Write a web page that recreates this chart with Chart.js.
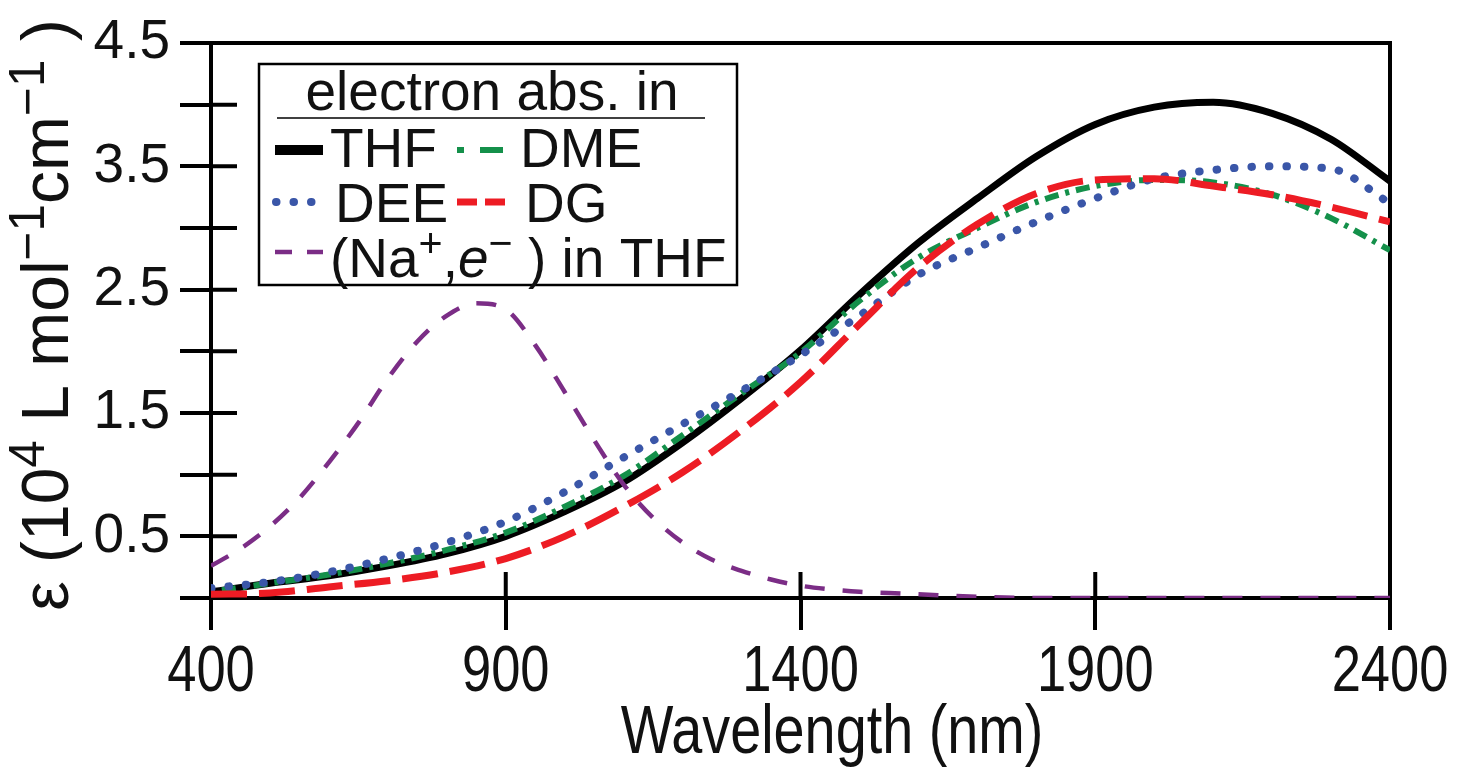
<!DOCTYPE html>
<html>
<head>
<meta charset="utf-8">
<script src="https://cdn.jsdelivr.net/npm/chart.js@4.4.0/dist/chart.umd.min.js"></script>
<style>
  html, body { margin: 0; padding: 0; background: #fff; }
  #wrap { width: 1458px; height: 769px; position: relative; }
</style>
</head>
<body>
<div id="wrap"><canvas id="absChart"></canvas></div>
<script>
// Solvated electron absorption spectra

// wavelength grid (nm) for the four solvent spectra
const wavelengths = [400, 500, 600, 700, 800, 900, 1000, 1100, 1200, 1300, 1400,
  1500, 1600, 1700, 1800, 1900, 2000, 2100, 2200, 2300, 2400];

// epsilon in 10^4 L mol^-1 cm^-1
const thf = [0.05, 0.12, 0.18, 0.26, 0.36, 0.50, 0.70, 0.94, 1.26, 1.62, 2.01,
  2.46, 2.88, 3.24, 3.58, 3.84, 3.98, 4.02, 3.93, 3.72, 3.38];
const dme = [0.05, 0.12, 0.19, 0.28, 0.39, 0.53, 0.74, 0.99, 1.32, 1.66, 1.99,
  2.41, 2.76, 3.00, 3.21, 3.34, 3.39, 3.37, 3.27, 3.08, 2.82];
const dee = [0.08, 0.13, 0.21, 0.32, 0.45, 0.62, 0.86, 1.14, 1.41, 1.68, 1.97,
  2.29, 2.62, 2.84, 3.05, 3.24, 3.40, 3.47, 3.50, 3.48, 3.20];
const dg = [0.03, 0.04, 0.09, 0.14, 0.21, 0.32, 0.50, 0.74, 1.02, 1.36, 1.75,
  2.22, 2.68, 3.03, 3.28, 3.39, 3.40, 3.34, 3.27, 3.17, 3.05];

// (Na+, e-) tight-contact pair in THF, finer grid around the band
const naWavelengths = [400, 450, 500, 550, 600, 650, 700, 750, 800, 850, 900, 950,
  1000, 1050, 1100, 1150, 1200, 1250, 1300, 1350, 1400, 1450, 1500, 1550, 1600,
  1700, 1800, 1900, 2000, 2100, 2200, 2300, 2400];
const naPair = [0.26, 0.40, 0.58, 0.81, 1.10, 1.42, 1.78, 2.08, 2.29, 2.39, 2.34, 2.05,
  1.67, 1.28, 0.92, 0.65, 0.45, 0.31, 0.22, 0.15, 0.10, 0.07, 0.05, 0.04, 0.03,
  0.01, 0, 0, 0, 0, 0, 0, 0];

const xTicks = [400, 900, 1400, 1900, 2400];
const yTickLabels = ['0.5', '1.5', '2.5', '3.5', '4.5'];

const FONT = "'Liberation Sans', Arial, Helvetica, sans-serif";
const INK = '#111';
const SQUEEZE = 0.82; // the x-axis text is set in a condensed face

function pairs(xs, ys) {
  return xs.map((x, i) => ({ x: x, y: ys[i] }));
}

// draw a run of text pieces: [text, kind] with kind '', 'sup' or 'it'
function drawRuns(ctx, runs, x, y, size, measureOnly) {
  let cx = x;
  runs.forEach(([t, kind]) => {
    const s = kind === 'sup' ? size * 0.75 : size;
    ctx.font = (kind === 'it' ? 'italic ' : '') + s + 'px ' + FONT;
    const dy = kind === 'sup' ? -size * 0.36 : 0;
    if (!measureOnly) ctx.fillText(t, cx, y + dy);
    cx += ctx.measureText(t).width;
  });
  return cx - x;
}

function condensedText(ctx, text, cx, baseline, size) {
  ctx.save();
  ctx.translate(cx, baseline);
  ctx.scale(SQUEEZE, 1);
  ctx.font = size + 'px ' + FONT;
  ctx.textAlign = 'center';
  ctx.fillText(text, 0, 0);
  ctx.restore();
}

function drawSample(ctx, ds, x1, x2, y) {
  ctx.save();
  ctx.strokeStyle = ds.borderColor;
  ctx.lineWidth = ds.legendWidth || ds.borderWidth;
  ctx.setLineDash(ds.legendDash || ds.borderDash || []);
  ctx.lineCap = ds.borderCapStyle || 'butt';
  ctx.beginPath();
  ctx.moveTo(x1, y);
  ctx.lineTo(x2, y);
  ctx.stroke();
  ctx.restore();
}

// frame: top + right border and the inward halves of the ticks
const framePlugin = {
  id: 'frame',
  beforeDatasetsDraw(chart) {
    const { ctx, chartArea: a, scales } = chart;
    ctx.save();
    ctx.strokeStyle = '#000';
    ctx.lineWidth = 4;
    ctx.beginPath();
    ctx.moveTo(a.left - 2, a.top);
    ctx.lineTo(a.right + 2, a.top);
    ctx.moveTo(a.right, a.top);
    ctx.lineTo(a.right, a.bottom);
    scales.x.ticks.forEach(t => {
      const px = scales.x.getPixelForValue(t.value);
      ctx.moveTo(px, a.bottom);
      ctx.lineTo(px, a.bottom - 26);
    });
    scales.y.ticks.forEach(t => {
      const py = scales.y.getPixelForValue(t.value);
      ctx.moveTo(a.left, py);
      ctx.lineTo(a.left + 26, py);
    });
    ctx.stroke();
    ctx.restore();
  }
};

// x labels, axis titles and the boxed legend
const annotatePlugin = {
  id: 'annotate',
  afterDraw(chart) {
    const { ctx, scales } = chart;
    const ds = chart.data.datasets;
    ctx.save();
    ctx.fillStyle = INK;
    ctx.textBaseline = 'alphabetic';

    // x tick labels and title (condensed)
    scales.x.ticks.forEach(t => {
      condensedText(ctx, String(t.value), scales.x.getPixelForValue(t.value), 691, 64);
    });
    condensedText(ctx, 'Wavelength (nm)', 832, 753, 68);

    // y title, rotated
    ctx.textAlign = 'left';
    const yRuns = [['ε', ''], [' (', ''], ['10', ''], ['4', 'sup'], [' L mol', ''],
      ['−1', 'sup'], ['cm', ''], ['−1', 'sup'], [' )', '']];
    const ySize = 66;
    const w = drawRuns(ctx, yRuns, 0, 0, ySize, true);
    ctx.save();
    ctx.translate(68, 315);
    ctx.rotate(-Math.PI / 2);
    drawRuns(ctx, yRuns, -w / 2, 0, ySize, false);
    ctx.restore();

    // legend box
    ctx.strokeStyle = '#000';
    ctx.lineWidth = 2.5;
    ctx.strokeRect(259, 64, 478, 221);
    ctx.font = '55px ' + FONT;
    ctx.textAlign = 'center';
    ctx.fillText('electron abs. in', 492, 110);
    ctx.lineWidth = 1.5;
    ctx.beginPath();
    ctx.moveTo(277, 118);
    ctx.lineTo(705, 118);
    ctx.stroke();

    ctx.textAlign = 'left';
    ctx.font = '55px ' + FONT;
    drawSample(ctx, ds[0], 275, 323, 150);
    ctx.fillText('THF', 330, 167);
    drawSample(ctx, ds[1], 457, 503, 150);
    ctx.fillText('DME', 520, 167);
    drawSample(ctx, ds[2], 276, 320, 202);
    ctx.fillText('DEE', 335, 222);
    drawSample(ctx, ds[3], 457, 505, 202);
    ctx.fillText('DG', 525, 222);
    drawSample(ctx, ds[4], 275, 323, 252);
    drawRuns(ctx, [['(Na', ''], ['+', 'sup'], [',', ''], ['e', 'it'], ['−', 'sup'], [' ) in THF', '']],
      330, 277, 55, false);
    ctx.restore();
  }
};

const ctx = document.getElementById('absChart').getContext('2d');

const absChart = new Chart(ctx, {
  type: 'line',
  data: {
    datasets: [{
      label: 'THF',
      data: pairs(wavelengths, thf),
      borderColor: '#000000',
      borderWidth: 7,
      legendWidth: 10,
      order: 4
    }, {
      label: 'DME',
      data: pairs(wavelengths, dme),
      borderColor: '#14904a',
      borderWidth: 6,
      borderDash: [4, 7, 14, 7],
      legendDash: [7, 16, 24, 8],
      order: 3
    }, {
      label: 'DEE',
      data: pairs(wavelengths, dee),
      borderColor: '#3a56a8',
      borderWidth: 8,
      borderDash: [0.5, 17],
      borderCapStyle: 'round',
      order: 2
    }, {
      label: 'DG',
      data: pairs(wavelengths, dg),
      borderColor: '#ed1c24',
      borderWidth: 7,
      borderDash: [36, 12],
      legendDash: [20, 8],
      order: 1
    }, {
      label: '(Na+,e-) in THF',
      data: pairs(naWavelengths, naPair),
      borderColor: '#7b2d86',
      borderWidth: 4.5,
      borderDash: [20, 18],
      legendDash: [17, 15],
      order: 0
    }]
  },
  options: {
    responsive: true,
    maintainAspectRatio: false,
    animation: false,
    elements: {
      point: { radius: 0 },
      line: { cubicInterpolationMode: 'monotone', fill: false }
    },
    layout: { padding: { top: 38, right: 68, left: 0, bottom: 0 } },
    plugins: {
      legend: { display: false },
      tooltip: { enabled: false }
    },
    scales: {
      x: {
        type: 'linear',
        min: 400,
        max: 2400,
        afterBuildTicks: (s) => { s.ticks = xTicks.map(v => ({ value: v })); },
        afterFit: (s) => { s.height = 171; },
        border: { color: '#000', width: 4 },
        grid: { drawOnChartArea: false, color: '#000', lineWidth: 4, tickLength: 32 },
        ticks: { display: false }
      },
      y: {
        type: 'linear',
        min: 0,
        max: 4.5,
        afterFit: (s) => { s.width = 211; },
        border: { color: '#000', width: 4 },
        grid: { drawOnChartArea: false, color: '#000', lineWidth: 4, tickLength: 31 },
        ticks: {
          stepSize: 0.5,
          autoSkip: false,
          color: INK,
          font: { family: FONT, size: 55 },
          padding: 10,
          callback: (v) => {
            const s = Number(v).toFixed(1);
            return yTickLabels.includes(s) ? s : '';
          }
        }
      }
    }
  },
  plugins: [framePlugin, annotatePlugin]
});
</script>
</body>
</html>
